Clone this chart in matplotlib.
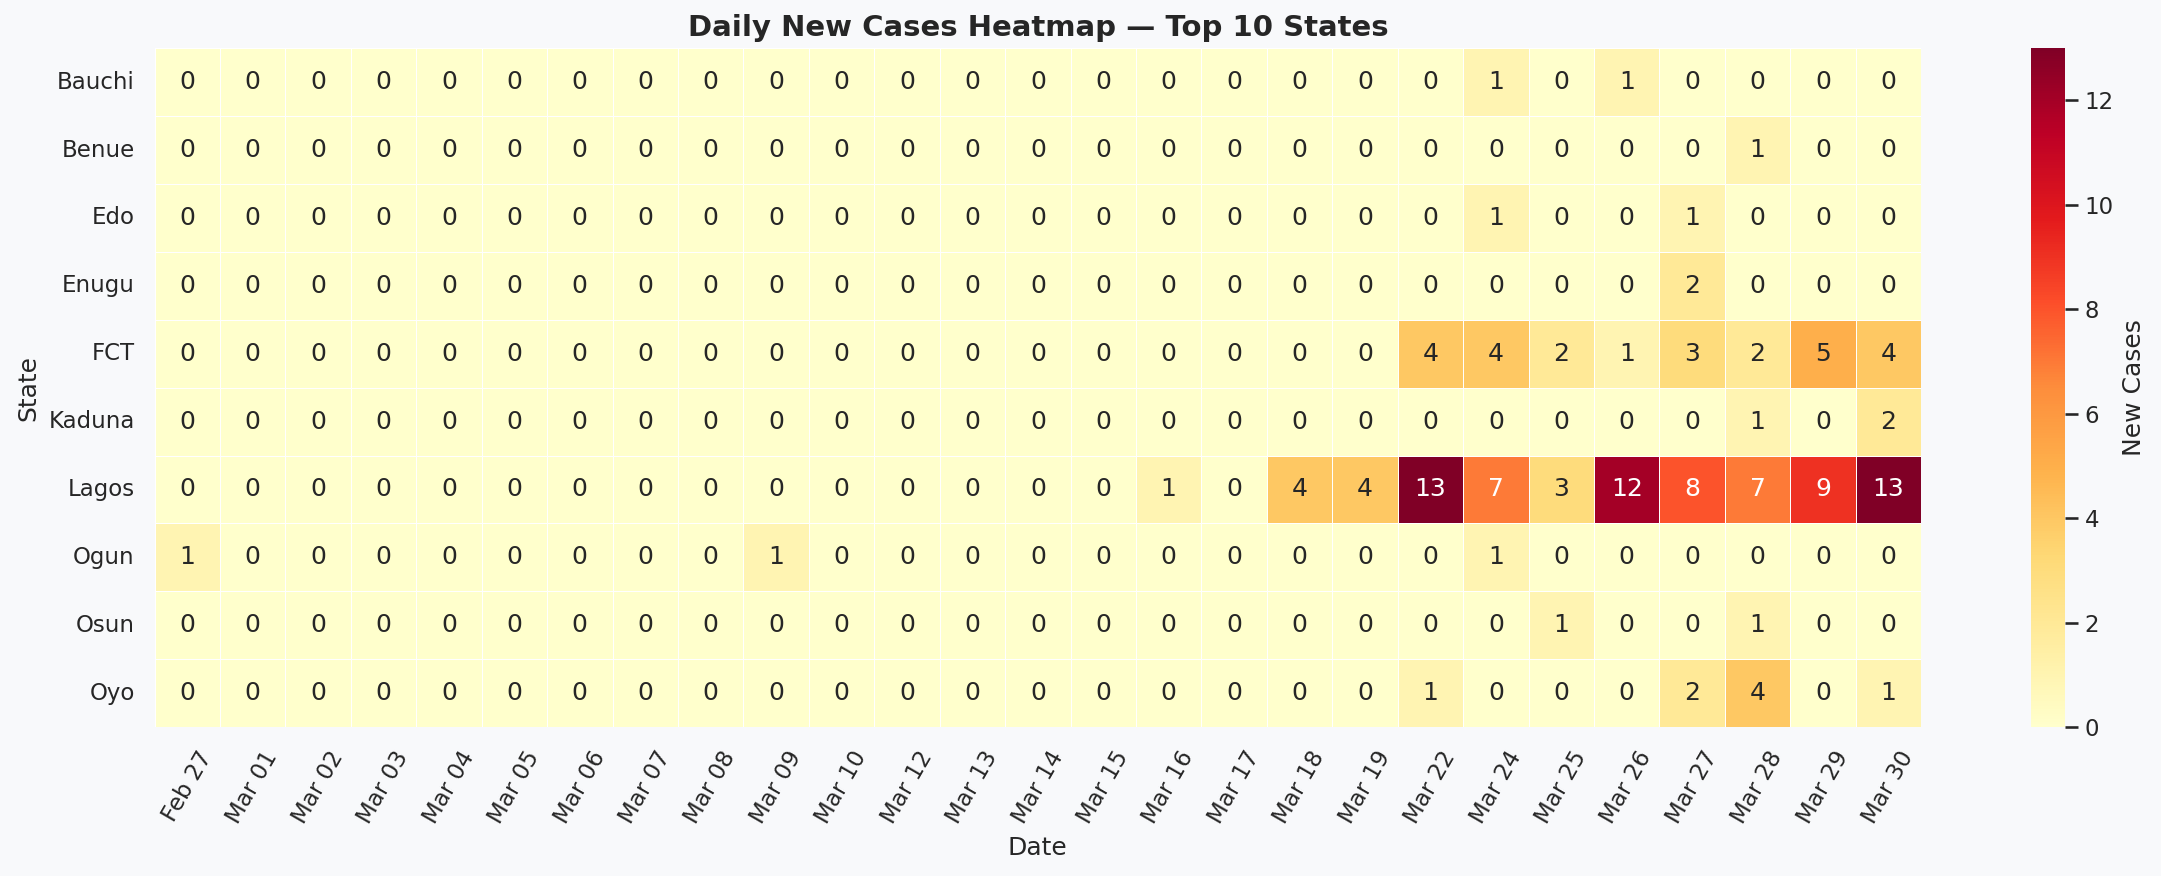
import numpy as np
import pandas as pd
import matplotlib
matplotlib.use("Agg")
import matplotlib.pyplot as plt
import seaborn as sns

dates = ["Feb 27", "Mar 01", "Mar 02", "Mar 03", "Mar 04", "Mar 05", "Mar 06",
         "Mar 07", "Mar 08", "Mar 09", "Mar 10", "Mar 12", "Mar 13", "Mar 14",
         "Mar 15", "Mar 16", "Mar 17", "Mar 18", "Mar 19", "Mar 22", "Mar 24",
         "Mar 25", "Mar 26", "Mar 27", "Mar 28", "Mar 29", "Mar 30"]
states = ["Bauchi", "Benue", "Edo", "Enugu", "FCT", "Kaduna", "Lagos", "Ogun", "Osun", "Oyo"]

bauchi = [0]*20 + [1, 0, 1, 0, 0, 0, 0]
benue  = [0]*24 + [1, 0, 0]
edo    = [0]*20 + [1, 0, 0, 1, 0, 0, 0]
enugu  = [0]*23 + [2, 0, 0, 0]
fct    = [0]*19 + [4, 4, 2, 1, 3, 2, 5, 4]
kaduna = [0]*24 + [1, 0, 2]
lagos  = [0]*15 + [1, 0, 4, 4, 13, 7, 3, 12, 8, 7, 9, 13]
ogun   = [1] + [0]*8 + [1] + [0]*10 + [1, 0, 0, 0, 0, 0, 0]
osun   = [0]*21 + [1, 0, 0, 1, 0, 0]
oyo    = [0]*19 + [1, 0, 0, 0, 2, 4, 0, 1]

df = pd.DataFrame([bauchi, benue, edo, enugu, fct, kaduna, lagos, ogun, osun, oyo],
                  index=states, columns=dates)

sns.set_theme(style="white")
bg = "#f8f9fb"
fig = plt.figure(figsize=(2161 / 150, 876 / 150), dpi=150, facecolor=bg)
ax = fig.add_axes([0.0715, 0.170, 0.8175, 0.775])
cax = fig.add_axes([0.940, 0.170, 0.0155, 0.775])

sns.heatmap(df, ax=ax, cbar_ax=cax, cmap="YlOrRd", annot=True, fmt="d",
            linewidths=0.4, linecolor="white",
            annot_kws={"fontsize": 12},
            cbar_kws={"label": "New Cases"})

ax.set_title("Daily New Cases Heatmap — Top 10 States", fontsize=14, fontweight="bold")
ax.set_xlabel("Date", fontsize=12)
ax.set_ylabel("State", fontsize=12)
ax.tick_params(axis="x", labelsize=11, rotation=60)
ax.tick_params(axis="y", labelsize=11, rotation=0)
cax.tick_params(labelsize=11)
cax.yaxis.label.set_size(12)

fig.savefig("out.png", dpi=150, facecolor=bg)
